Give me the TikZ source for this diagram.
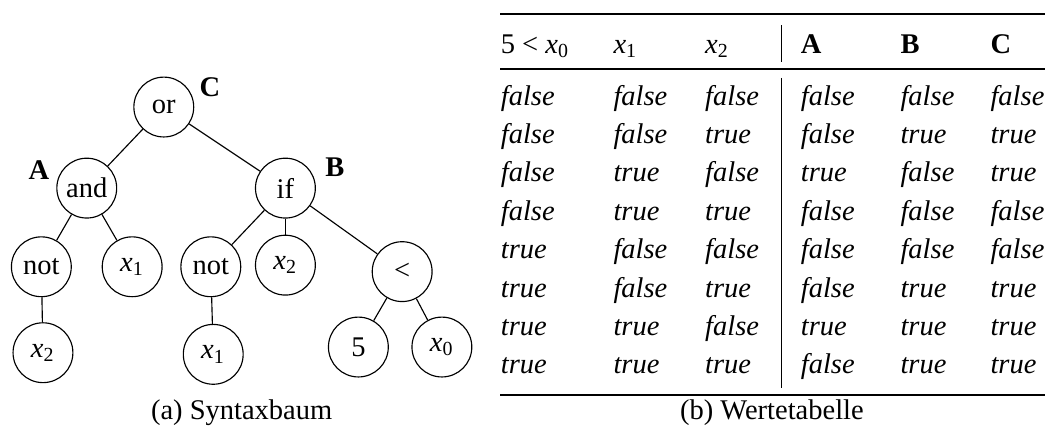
\documentclass[tikz,border=0pt]{standalone}
\usepackage{fontspec}
\setmainfont{Liberation Serif}
\usetikzlibrary{positioning}
\newcommand{\xsub}[1]{\textit{x}\textsubscript{#1}}

\begin{document}
\begin{tikzpicture}[knoten/.style={draw, circle, minimum size=21pt, inner sep=0pt, thin},
				marke/.style={font=\bfseries, inner sep=0pt},
				zelle/.style={anchor=base west, inner sep=0pt},
				x=1cm, y=1cm]
				%Bildbereich
				\useasboundingbox (0,0) rectangle (12.95,-5.30);
				% Syntaxbaum
				\node[knoten] (or)   at (2.02,-1.32) {or};
				\node[knoten] (and)  at (1.07,-2.32) {and};
				\node[knoten] (if)   at (3.52,-2.32) {if};
				\node[knoten] (not1) at (0.51,-3.29) {not};
				\node[knoten] (xa)   at (1.63,-3.29) {\xsub{1}};
				\node[knoten] (not2) at (2.60,-3.29) {not};
				\node[knoten] (xb)   at (3.52,-3.27) {\xsub{2}};
				\node[knoten] (lt)   at (4.96,-3.35) {<};
				\node[knoten] (xc)   at (0.53,-4.35) {\xsub{2}};
				\node[knoten] (xd)   at (2.63,-4.37) {\xsub{1}};
				\node[knoten] (five) at (4.42,-4.28) {5};
				\node[knoten] (xe)   at (5.45,-4.28) {\xsub{0}};
				% Kanten
				\foreach \a/\b in {or/and, or/if, and/not1, and/xa, not1/xc, if/not2, if/xb, if/lt, not2/xd, lt/five, lt/xe}
					\draw[thin] (\a) -- (\b);
				% Marken
				\node[marke] (mc) at (2.59,-1.07) {C};
				\node[marke] (ma) at (0.48,-2.10) {A};
				\node[marke] (mb) at (4.13,-2.06) {B};
				% Tabelle: Linien
				\draw[line width=0.8pt] (6.17,-0.17) -- (12.89,-0.17);
				\draw[line width=0.5pt] (6.17,-0.85) -- (12.89,-0.85);
				\draw[line width=0.8pt] (6.17,-4.87) -- (12.89,-4.87);
				\draw[thin] (9.64,-0.31) -- (9.64,-0.76);
				\draw[thin] (9.64,-0.96) -- (9.64,-4.79);
				% Kopfzeile
				\foreach \x/\kopf [count=\s] in {6.17/{5 < \xsub{0}}, 7.56/{\xsub{1}}, 8.69/{\xsub{2}}, 9.87/{\textbf{A}}, 11.10/{\textbf{B}}, 12.21/{\textbf{C}}}
					\node[zelle] (k\s) at (\x,-0.654) {\kopf};
				% Werte
				\foreach \x/\spalte [count=\s] in {6.17/{false,false,false,false,true,true,true,true},
						7.56/{false,false,true,true,false,false,true,true},
						8.69/{false,true,false,true,false,true,false,true},
						9.87/{false,false,true,false,false,false,true,false},
						11.10/{false,true,false,false,false,true,true,true},
						12.21/{false,true,true,false,false,true,true,true}}
					\foreach \wert [count=\r] in \spalte
						\node[zelle] (z\r-\s) at (\x,{-1.295-0.4736*(\r-1)}) {\textit{\wert}};
				% Unterschriften
				\node (capa) at (2.98,-5.09) {(a) Syntaxbaum};
				\node (capb) at (9.52,-5.09) {(b) Wertetabelle};
			\end{tikzpicture}
\end{document}
